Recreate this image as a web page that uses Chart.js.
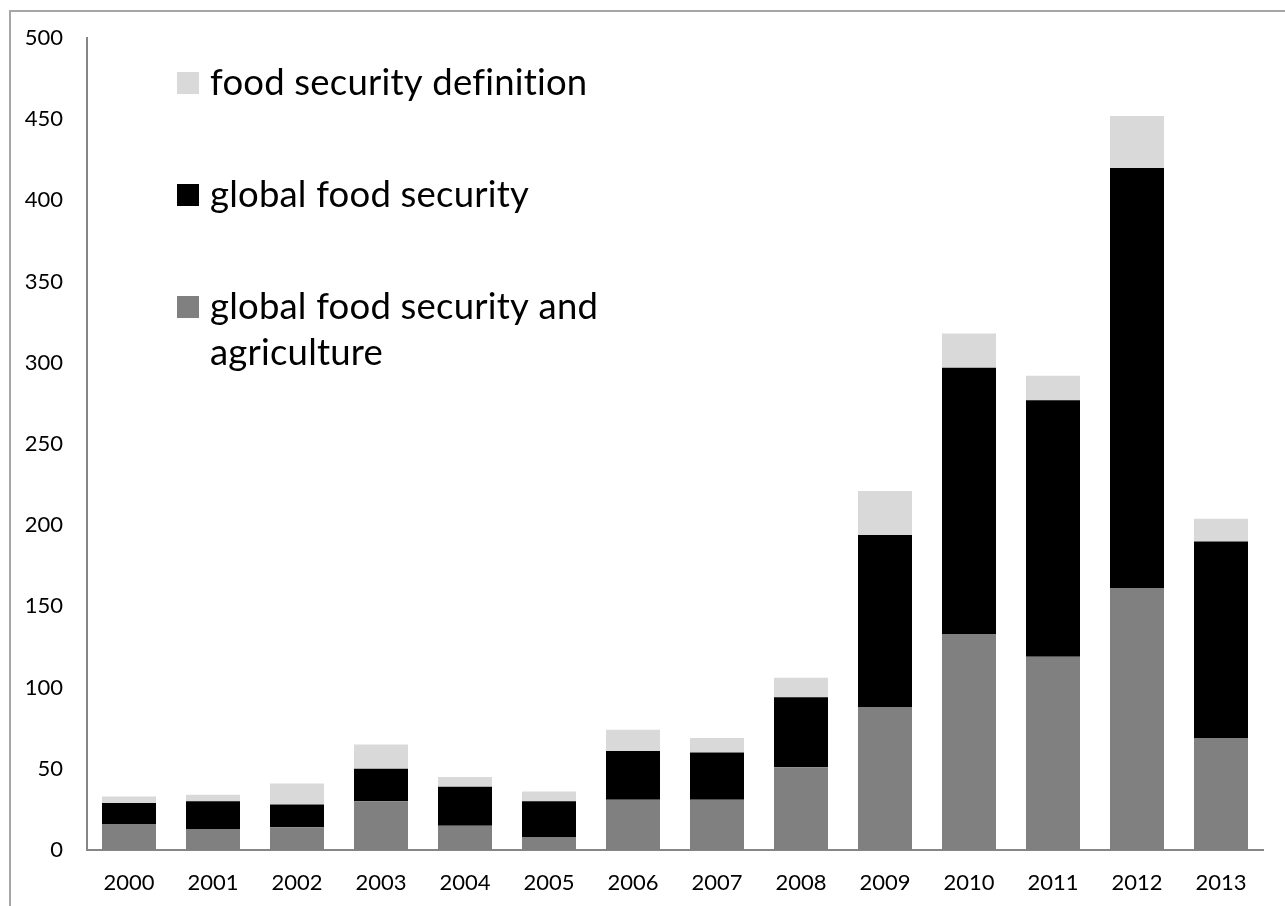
<!DOCTYPE html>
<html>
<head>
<meta charset="utf-8">
<script src="https://cdn.jsdelivr.net/npm/chart.js@4/dist/chart.umd.min.js"></script>
<style>
  html, body { margin: 0; padding: 0; background: #fff; }
  #wrap { position: relative; width: 1285px; height: 906px; overflow: hidden; }
  #frame { position: absolute; left: 9px; top: 10px; width: 1400px; height: 1000px;
           border: 2px solid #a6a6a6; box-sizing: border-box; pointer-events: none; }
  canvas { position: absolute; left: 0; top: 0; }
</style>
</head>
<body>
<div id="wrap">
  <canvas id="c" width="1285" height="906"></canvas>
  <div id="frame"></div>
</div>
<script>
const categories = ['2000','2001','2002','2003','2004','2005','2006','2007','2008','2009','2010','2011','2012','2013'];
const agricultureValues = [16, 13, 14, 30, 15, 8, 31, 31, 51, 88, 133, 119, 161, 69];
const globalFoodSecurityValues = [13, 17, 14, 20, 24, 22, 30, 29, 43, 106, 164, 158, 259, 121];
const definitionValues = [4, 4, 13, 15, 6, 6, 13, 9, 12, 27, 21, 15, 32, 14];
const seriesLabels = ['global food security and agriculture', 'global food security', 'food security definition'];
const yTicks = [0, 50, 100, 150, 200, 250, 300, 350, 400, 450, 500];

const FONT = 'Lato, "Open Sans", "DejaVu Sans", sans-serif';

const legendPlugin = {
  id: 'insideLegend',
  afterDraw(chart, args, opts) {
    const ctx = chart.ctx;
    ctx.save();
    ctx.font = opts.fontSize + 'px ' + FONT;
    if ('letterSpacing' in ctx) ctx.letterSpacing = '0.2px';
    ctx.textBaseline = 'middle';
    ctx.textAlign = 'left';
    const ds = chart.data.datasets.slice().reverse();
    ds.forEach((d, i) => {
      const cy = opts.top + i * opts.itemGap;
      ctx.fillStyle = d.backgroundColor;
      ctx.fillRect(opts.left, cy - opts.box / 2, opts.box, opts.box);
      ctx.fillStyle = '#000';
      const words = d.label.split(' ');
      const lines = [];
      let cur = '';
      words.forEach(w => {
        const test = cur ? cur + ' ' + w : w;
        if (ctx.measureText(test).width > opts.maxWidth && cur) { lines.push(cur); cur = w; }
        else cur = test;
      });
      if (cur) lines.push(cur);
      lines.forEach((ln, j) => ctx.fillText(ln, opts.left + opts.box + opts.textGap, cy + j * opts.lineHeight));
    });
    ctx.restore();
  }
};

new Chart(document.getElementById('c'), {
  type: 'bar',
  data: {
    labels: categories,
    datasets: [
      { label: seriesLabels[0], data: agricultureValues, backgroundColor: '#808080' },
      { label: seriesLabels[1], data: globalFoodSecurityValues, backgroundColor: '#000000' },
      { label: seriesLabels[2], data: definitionValues, backgroundColor: '#d9d9d9' }
    ]
  },
  options: {
    responsive: false,
    devicePixelRatio: 1,
    animation: false,
    layout: { padding: { top: 38, right: 22, left: 0, bottom: 0 } },
    datasets: { bar: { barPercentage: 0.643, categoryPercentage: 1.0, borderWidth: 0 } },
    plugins: {
      legend: { display: false },
      tooltip: { enabled: false },
      insideLegend: { left: 177, top: 83, itemGap: 112, box: 22, textGap: 11, fontSize: 36.5, lineHeight: 46, maxWidth: 440 }
    },
    scales: {
      x: {
        stacked: true,
        grid: { display: false, drawTicks: false },
        border: { display: true, color: '#868686', width: 2 },
        ticks: { color: '#000', font: { family: FONT, size: 22 }, padding: 20, maxRotation: 0 },
        afterFit(scale) { scale.height = 56; }
      },
      y: {
        stacked: true,
        min: 0, max: 500,
        grid: { display: false, drawTicks: false },
        border: { display: true, color: '#868686', width: 2 },
        afterBuildTicks(scale) { scale.ticks = yTicks.map(v => ({ value: v })); },
        ticks: { color: '#000', font: { family: FONT, size: 22 }, padding: 24 },
        afterFit(scale) { scale.width = 87; }
      }
    }
  },
  plugins: [legendPlugin]
});
</script>
</body>
</html>
